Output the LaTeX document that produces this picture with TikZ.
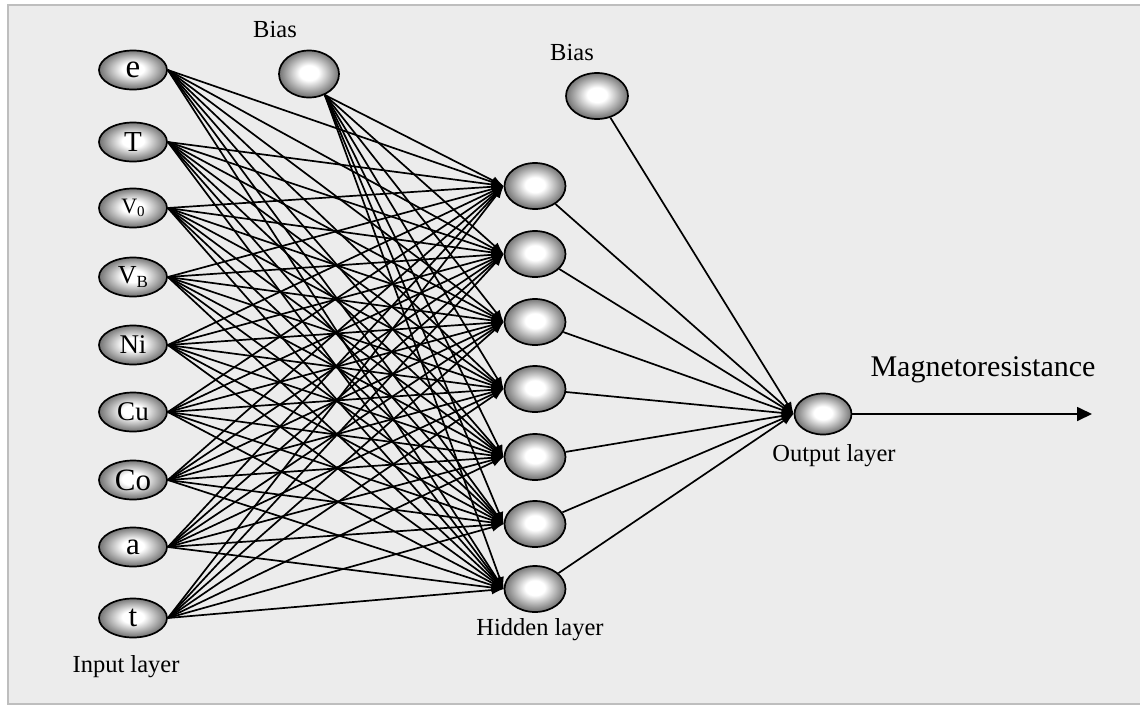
\documentclass[tikz,border=0pt]{standalone}
\usepackage{fontspec}
\setmainfont{Liberation Serif}
\usetikzlibrary{shapes.geometric,arrows.meta}
\definecolor{bgc}{RGB}{236,236,236}
\definecolor{framec}{RGB}{190,190,190}
\pgfdeclareradialshading{ball}{\pgfpoint{0bp}{1.5bp}}{color(0bp)=(white); color(8bp)=(white); color(25bp)=(black!55); color(50bp)=(black!55)}
\begin{document}
\begin{tikzpicture}[x=1pt,y=-1pt,
  neuron/.style={ellipse,draw=black,line width=1.7pt,inner sep=0pt,
    minimum width=60pt,minimum height=46pt,shade,shading=ball},
  inneuron/.style={neuron,minimum width=68pt,minimum height=39pt},
  lab/.style={font=\fontsize{24.5}{26}\selectfont,inner sep=0pt},
  conn/.style={line width=1.7pt,-{Latex[length=12pt,width=9pt]}},
  fs/.style={font=\fontsize{#1}{#1}\selectfont}
]
\useasboundingbox (0,0) rectangle (1140,707);
\fill[white] (0,0) rectangle (1140,707);
\draw[fill=bgc,draw=framec,line width=2pt] (8,5) rectangle (1142,704);

% input layer
\node[inneuron] (in1) at (133,70)  {\fontsize{33}{33}\selectfont e};
\node[inneuron] (in2) at (133,142) {\fontsize{29}{29}\selectfont T};
\node[inneuron] (in3) at (133,208) {\fontsize{22}{22}\selectfont V\raisebox{-0.25ex}{\fontsize{15}{15}\selectfont 0}};
\node[inneuron] (in4) at (133,277) {\fontsize{26}{26}\selectfont V\raisebox{-0.3ex}{\fontsize{17}{17}\selectfont B}};
\node[inneuron] (in5) at (133,345) {\fontsize{27}{27}\selectfont Ni};
\node[inneuron] (in6) at (133,412) {\fontsize{27}{27}\selectfont Cu};
\node[inneuron] (in7) at (133,480) {\fontsize{31}{31}\selectfont Co};
\node[inneuron] (in8) at (133,547) {\fontsize{31}{31}\selectfont a};
\node[inneuron] (in9) at (133,618) {\fontsize{31}{31}\selectfont t};

% bias nodes
\node[neuron,minimum width=60pt,minimum height=47pt] (b1) at (309,74) {};
\node[neuron,minimum width=62pt,minimum height=46pt] (b2) at (597,96) {};

% hidden layer
\node[neuron,minimum width=61pt] (h1) at (535,186) {};
\node[neuron,minimum width=61pt] (h2) at (535,254) {};
\node[neuron,minimum width=61pt] (h3) at (535,322) {};
\node[neuron,minimum width=61pt] (h4) at (535,389) {};
\node[neuron,minimum width=61pt] (h5) at (535,457) {};
\node[neuron,minimum width=61pt] (h6) at (535,524) {};
\node[neuron,minimum width=61pt] (h7) at (535,589) {};

% output
\node[neuron,minimum width=57pt,minimum height=41pt] (out) at (823,414) {};
\coordinate (end) at (1092,414);

% labels
\node[lab] (bl1) at (275,30) {Bias};
\node[lab] (bl2) at (572,53) {Bias};
\node[lab] (inl) at (126,667) {Input layer};
\node[lab] (hl) at (540,630) {Hidden layer};
\node[lab] (ol) at (834,456) {Output layer};
\node[inner sep=0pt,fs=30] (mr) at (983,370) {Magnetoresistance};

% connectors
\foreach \i in {1,...,9}
  \foreach \j in {1,...,7}
    \draw[conn] (in\i.east) -- (h\j.west);
\foreach \j in {1,...,7}
  \draw[conn] (b1.-53) -- (h\j.west);
\foreach \j in {1,...,7}
  \draw[conn] (h\j) -- (out.west);
\draw[conn] (b2) -- (out.west);
\draw[line width=1.7pt,-{Triangle[length=15pt,width=14pt]}] (out.east) -- (end);
\end{tikzpicture}
\end{document}
